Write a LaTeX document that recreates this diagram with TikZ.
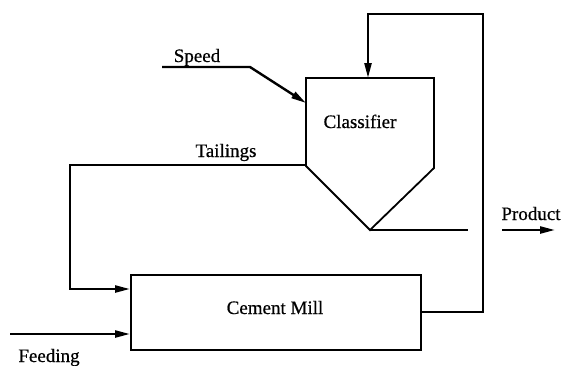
\documentclass[tikz,border=0pt]{standalone}
\usepackage{fontspec}
\setmainfont{Liberation Serif}
\newfontfamily\scanfont[FakeBold=0.6]{Liberation Serif}
\usetikzlibrary{arrows.meta, positioning}

\begin{document}
\begin{tikzpicture}[x=1pt, y=-1pt, line width=1.8pt,
  flow/.style={line width=2.4pt, -{Triangle[length=15pt, width=7pt]}},
  lbl/.style={anchor=base, inner sep=0pt, font=\scanfont\fontsize{19}{22}\selectfont}]
  \useasboundingbox (0,0) rectangle (564,365);
  % cement mill
  \node[draw, anchor=north west, minimum width=290pt, minimum height=75pt, inner sep=0pt] (mill) at (130,274) {};
  \node[lbl] (milltxt) at (275,314) {Cement Mill};
  % classifier outline
  \coordinate (ctl) at (306,78);
  \coordinate (ctr) at (434,78);
  \coordinate (crs) at (434,168);
  \coordinate (capex) at (370,230);
  \coordinate (cls) at (306,166);
  \draw (ctl) -- (ctr) -- (crs) -- (capex) -- (cls) -- cycle;
  \node[lbl] (clftxt) at (360,128) {Classifier};
  % speed input
  \coordinate (spd0) at (162,67);
  \coordinate (spd1) at (250,67);
  \coordinate (clfin) at (306,103);
  \draw[flow] (spd0) -- (spd1) -- (clfin);
  \node[lbl] (spdtxt) at (197,62) {Speed};
  % mill output back to classifier
  \coordinate (millout) at (mill.east |- 0,312);
  \coordinate (clftop) at (368,78);
  \draw[flow] (millout) -- (483,312) -- (483,14) -- (clftop |- 0,14) -- (clftop);
  % tailings return
  \coordinate (millin) at (130,289);
  \draw[flow] (cls |- 0,165) -- (70,165) -- (70,289) -- (millin);
  \node[lbl] (tailtxt) at (226,157) {Tailings};
  % feeding
  \coordinate (feed0) at (10,334);
  \coordinate (feedin) at (130,334);
  \draw[flow] (feed0) -- (feedin);
  \node[lbl] (feedtxt) at (49,362) {Feeding};
  % product
  \coordinate (prodend) at (468,230);
  \draw[line width=2.4pt] (capex) -- (prodend);
  \coordinate (prod0) at (502,230);
  \coordinate (prod1) at (555,230);
  \draw[flow] (prod0) -- (prod1);
  \node[lbl] (prodtxt) at (531,220) {Product};
\end{tikzpicture}
\end{document}
